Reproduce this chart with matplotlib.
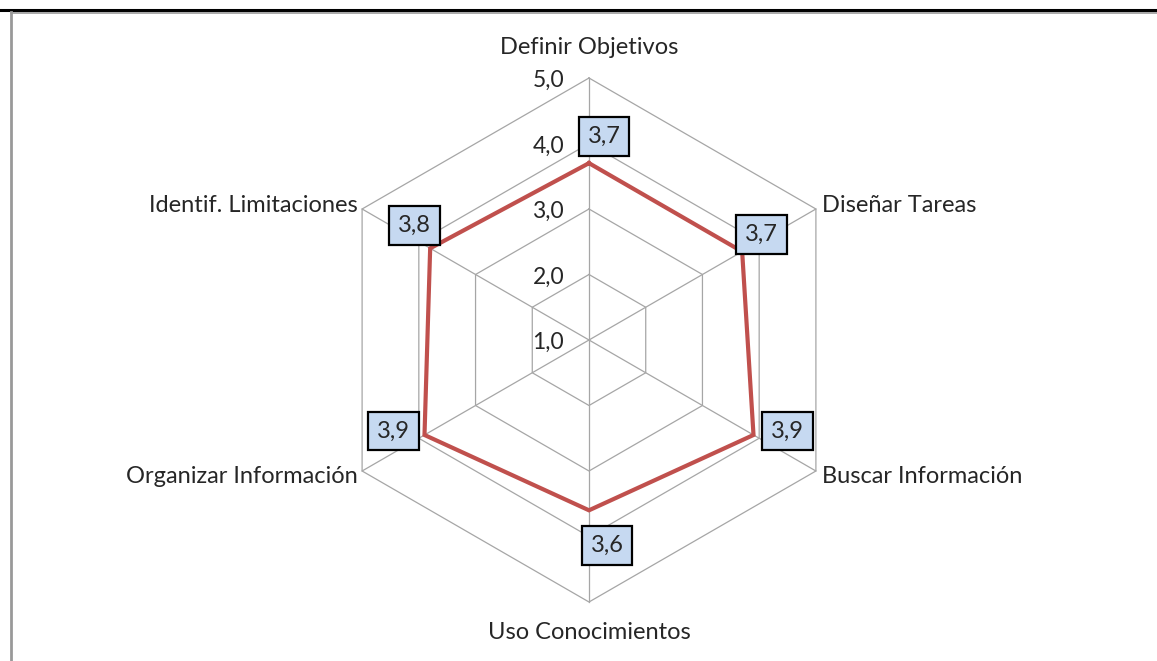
import numpy as np
import matplotlib
matplotlib.use("Agg")
import matplotlib.pyplot as plt
from matplotlib.lines import Line2D

# === 資料 ===
categories = ["Definir Objetivos", "Diseñar Tareas", "Buscar Información",
              "Uso Conocimientos", "Organizar Información", "Identif. Limitaciones"]
values = [3.7, 3.7, 3.9, 3.6, 3.9, 3.8]
ring_values = [2.0, 3.0, 4.0, 5.0]
tick_labels = ["1,0", "2,0", "3,0", "4,0", "5,0"]
r_min, r_max = 1.0, 5.0

plt.rcParams['font.family'] = ['Lato', 'DejaVu Sans']

W, H, DPI = 1157, 661, 100
fig = plt.figure(figsize=(W / DPI, H / DPI), dpi=DPI)
fig.patch.set_facecolor("white")

# 圖表中心與比例 (像素)
cx, cy, unit = 589, 340, 65.5
ax = fig.add_axes([0, 0, 1, 1])
ax.set_xlim(-cx / unit, (W - cx) / unit)
ax.set_ylim(-(H - cy) / unit, cy / unit)
ax.axis("off")

n = len(categories)
angles = np.pi / 2 - np.arange(n) * 2 * np.pi / n
txt_c = "#262626"
fs = 17


def to_xy(v, a):
    r = v - r_min
    return r * np.cos(a), r * np.sin(a)


grid_c = "#A6A6A6"
# 六角形網格
for rv in ring_values:
    xs, ys = to_xy(np.full(n + 1, rv), np.append(angles, angles[0]))
    ax.plot(xs, ys, color=grid_c, lw=0.9, zorder=1)
# 放射線
for a in angles:
    xs, ys = to_xy(np.array([r_min, r_max]), np.array([a, a]))
    ax.plot(xs, ys, color=grid_c, lw=0.9, zorder=1)

# 刻度標籤
for i, t in enumerate(tick_labels):
    v = r_min + i
    ax.text(-0.38, v - r_min - 0.04, t, ha="right", va="center", fontsize=16.5, color=txt_c)

# 數據線
xs, ys = to_xy(np.array(values + values[:1]), np.append(angles, angles[0]))
ax.plot(xs, ys, color="#C0504D", lw=3.0, zorder=3, solid_joinstyle="miter")

# 數據標籤 (像素偏移)
label_offsets = [(15, 27), (19, 17), (34, 4), (18, -35), (-31, 4), (-16, 23)]
for v, a, (dx, dy) in zip(values, angles, label_offsets):
    x, y = to_xy(v, a)
    ax.annotate(f"{v:.1f}".replace(".", ","), xy=(x, y), xytext=(dx, dy),
                textcoords="offset pixels", ha="center", va="center",
                fontsize=17, color=txt_c, zorder=5,
                bbox=dict(boxstyle="square,pad=0.38", fc="#C6D9F1", ec="black", lw=1.6))

# 類別標籤
for cat, a in zip(categories, angles):
    x, y = to_xy(r_max, a)
    c, s = np.cos(a), np.sin(a)
    if abs(c) < 0.1:
        ha = "center"
        x_off, y_off = 0, (0.46 if s > 0 else -0.46)
    else:
        ha = "left" if c > 0 else "right"
        x_off, y_off = (0.1 if c > 0 else -0.06), (0.06 if s > 0 else -0.08)
    ax.text(x + x_off, y + y_off, cat, ha=ha, va="center", fontsize=fs, color=txt_c)

# 外框 (表格邊線)
fig.add_artist(Line2D([0, 1], [1 - 10 / H, 1 - 10 / H], transform=fig.transFigure,
                      color="black", lw=2.2))
fig.add_artist(Line2D([11 / W, 1], [1 - 12.5 / H, 1 - 12.5 / H], transform=fig.transFigure,
                      color="#999999", lw=1.2))
fig.add_artist(Line2D([11 / W, 11 / W], [0, 1 - 12 / H], transform=fig.transFigure,
                      color="#999999", lw=2.0))

fig.savefig("out.png", dpi=DPI)
